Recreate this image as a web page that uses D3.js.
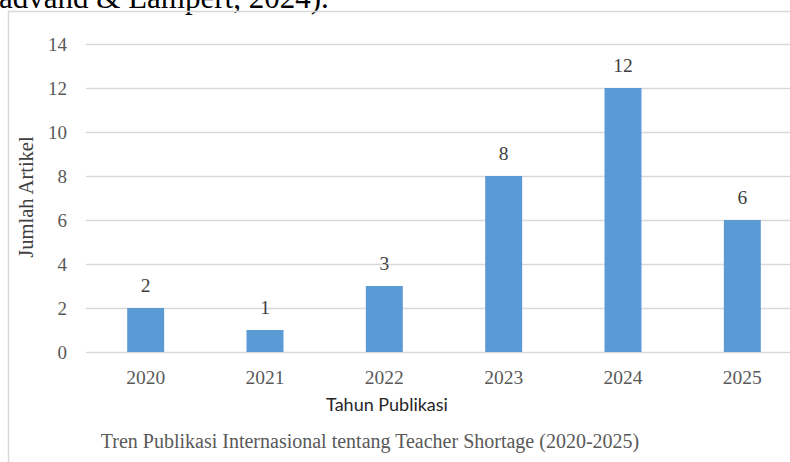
<!DOCTYPE html>
<html>
<head>
<meta charset="utf-8">
<script src="https://cdn.jsdelivr.net/npm/d3@7"></script>
<style>
  html, body { margin: 0; padding: 0; background: #fff; }
  svg { display: block; }
</style>
</head>
<body>
<svg id="chart" width="790" height="462"></svg>
<script>
// Publication counts per year
const years = ["2020", "2021", "2022", "2023", "2024", "2025"];
const articles = [2, 1, 3, 8, 12, 6];
const yTicks = [0, 2, 4, 6, 8, 10, 12, 14];

const yTitle = "Jumlah Artikel";
const xTitle = "Tahun Publikasi";
const caption = "Tren Publikasi Internasional tentang Teacher Shortage (2020-2025)";
const leadText = "advand & Lampert, 2024).";

const svg = d3.select("#chart");
const serif = "'Liberation Serif', 'Times New Roman', serif";
const sans = "Lato, 'Open Sans', 'Noto Sans', sans-serif";

// tail of the running text line above the figure
svg.append("text")
  .attr("x", -1).attr("y", 8)
  .attr("font-family", serif).attr("font-size", 31)
  .attr("fill", "#000")
  .text(leadText);

// figure frame (top and left edges)
svg.append("path")
  .attr("d", "M8.5,462 V11.5 H790")
  .attr("fill", "none").attr("stroke", "#d9d9d9").attr("stroke-width", 1.5);

const x = d3.scaleBand().domain(years).range([86, 802]).paddingInner(0.69).paddingOuter(0.345);
const y = d3.scaleLinear().domain([0, 14]).range([352, 44]);

// gridlines
svg.append("g").selectAll("line").data(yTicks).join("line")
  .attr("x1", 86).attr("x2", 790)
  .attr("y1", d => Math.round(y(d)) + 0.5).attr("y2", d => Math.round(y(d)) + 0.5)
  .attr("stroke", "#d9d9d9").attr("stroke-width", 1.3);

// y axis labels
const yAxis = d3.axisLeft(y).tickValues(yTicks).tickSize(0).tickPadding(0);
svg.append("g").attr("transform", "translate(67,0)").call(yAxis)
  .call(g => g.select(".domain").remove())
  .call(g => g.selectAll("text")
    .attr("font-family", serif).attr("font-size", 19).attr("fill", "#595959"));

// x axis labels
const xAxis = d3.axisBottom(x).tickSize(0).tickPadding(0);
svg.append("g").attr("transform", "translate(0,370)").call(xAxis)
  .call(g => g.select(".domain").remove())
  .call(g => g.selectAll("text")
    .attr("font-family", serif).attr("font-size", 19.5).attr("fill", "#595959"));

// bars
svg.append("g").selectAll("rect").data(articles).join("rect")
  .attr("x", (d, i) => x(years[i]))
  .attr("width", x.bandwidth())
  .attr("y", d => y(d))
  .attr("height", d => y(0) - y(d))
  .attr("fill", "#5b9bd5");

// value labels
svg.append("g").selectAll("text").data(articles).join("text")
  .attr("x", (d, i) => x(years[i]) + x.bandwidth() / 2)
  .attr("y", d => y(d) - 16)
  .attr("text-anchor", "middle")
  .attr("font-family", serif).attr("font-size", 19.5).attr("fill", "#404040")
  .text(d => d);

// axis titles
svg.append("text")
  .attr("transform", "translate(33,197) rotate(-90)")
  .attr("text-anchor", "middle")
  .attr("font-family", serif).attr("font-size", 20.5).attr("fill", "#404040")
  .text(yTitle);

svg.append("text")
  .attr("x", 387).attr("y", 411)
  .attr("text-anchor", "middle")
  .attr("font-family", sans).attr("font-size", 18).attr("fill", "#262626")
  .text(xTitle);

// caption
svg.append("text")
  .attr("x", 370).attr("y", 448)
  .attr("text-anchor", "middle")
  .attr("font-family", serif).attr("font-size", 20).attr("fill", "#595959")
  .text(caption);
</script>
</body>
</html>
